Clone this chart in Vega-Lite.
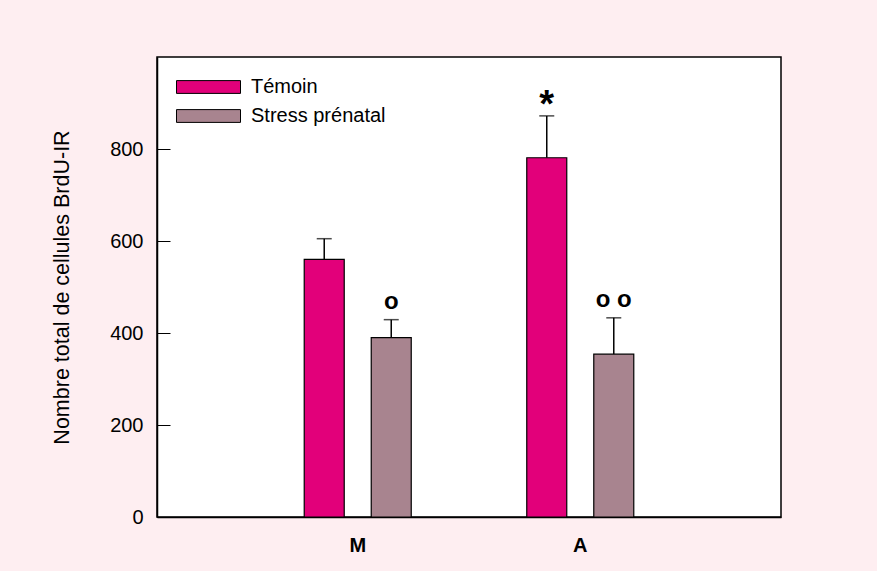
{
  "$schema": "https://vega.github.io/schema/vega-lite/v6.json",
  "width": 624,
  "height": 460,
  "autosize": {"type": "none"},
  "padding": {"left": 157, "top": 57, "right": 96, "bottom": 54},
  "background": "#FEEEF1",
  "config": {
    "font": "Liberation Sans",
    "view": {"fill": "white", "stroke": "black", "strokeWidth": 1.5}
  },
  "data": {
    "values": [
      {"group": "M", "cond": "Témoin", "value": 560, "upper": 605, "sig": ""},
      {"group": "M", "cond": "Stress prénatal", "value": 390, "upper": 429, "sig": "o"},
      {"group": "A", "cond": "Témoin", "value": 781, "upper": 872, "sig": "*"},
      {"group": "A", "cond": "Stress prénatal", "value": 354, "upper": 433, "sig": "o o"}
    ]
  },
  "encoding": {
    "x": {
      "field": "group",
      "type": "nominal",
      "sort": ["M", "A"],
      "scale": {"paddingInner": 0, "paddingOuter": 0.402},
      "axis": {
        "title": null,
        "labelAngle": 0,
        "ticks": false,
        "domain": true,
        "domainColor": "black",
        "domainWidth": 1.5,
        "labelFont": "Liberation Sans",
        "labelFontSize": 20,
        "labelFontWeight": "bold",
        "labelColor": "black",
        "labelPadding": 18
      }
    },
    "xOffset": {
      "field": "cond",
      "type": "nominal",
      "sort": ["Témoin", "Stress prénatal"],
      "scale": {"paddingInner": 0.403, "paddingOuter": 0.862}
    }
  },
  "layer": [
    {
      "mark": {"type": "rule", "color": "black", "strokeWidth": 1.5},
      "encoding": {
        "y": {
          "field": "value",
          "type": "quantitative",
          "title": "Nombre total de cellules BrdU-IR",
          "scale": {"domain": [0, 1000]},
          "axis": {
            "title": "Nombre total de cellules BrdU-IR",
            "values": [0, 200, 400, 600, 800],
            "grid": false,
            "tickSize": -13,
            "tickColor": "black",
            "tickWidth": 1,
            "domain": true,
            "domainColor": "black",
            "domainWidth": 1.5,
            "labelFontSize": 20,
            "labelColor": "black",
            "labelPadding": 27,
            "titleFontSize": 21.5,
            "titleFontWeight": "normal",
            "titleColor": "black",
            "titlePadding": 36
          }
        },
        "y2": {"field": "upper"}
      }
    },
    {
      "mark": {"type": "tick", "color": "black", "size": 15, "thickness": 1.5},
      "encoding": {
        "y": {"field": "upper", "type": "quantitative", "title": "Nombre total de cellules BrdU-IR", "scale": {"domain": [0, 1000]}}
      }
    },
    {
      "mark": {"type": "bar", "stroke": "black", "strokeWidth": 1.2},
      "encoding": {
        "y": {"field": "value", "type": "quantitative", "title": "Nombre total de cellules BrdU-IR", "scale": {"domain": [0, 1000]}},
        "color": {
          "field": "cond",
          "type": "nominal",
          "sort": ["Témoin", "Stress prénatal"],
          "scale": {"domain": ["Témoin", "Stress prénatal"], "range": ["#E2007A", "#A8848F"]},
          "legend": {
            "title": null,
            "orient": "none",
            "legendX": 19,
            "legendY": 15.5,
            "padding": 0,
            "symbolType": "M-1,-0.2H1V0.2H-1Z",
            "symbolSize": 4096,
            "symbolStrokeColor": "black",
            "symbolStrokeWidth": 1,
            "symbolOpacity": 1,
            "labelFontSize": 20,
            "labelColor": "black",
            "labelOffset": 10,
            "clipHeight": 29,
            "rowPadding": 0
          }
        }
      }
    },
    {
      "transform": [{"filter": "datum.sig != '*'"}],
      "mark": {"type": "text", "fontSize": 24, "fontWeight": "bold", "color": "black", "baseline": "alphabetic", "dy": -11},
      "encoding": {
        "y": {"field": "upper", "type": "quantitative", "title": "Nombre total de cellules BrdU-IR", "scale": {"domain": [0, 1000]}},
        "text": {"field": "sig"}
      }
    },
    {
      "transform": [{"filter": "datum.sig == '*'"}],
      "mark": {"type": "text", "fontSize": 38, "fontWeight": "bold", "color": "black", "baseline": "alphabetic", "dy": 1},
      "encoding": {
        "y": {"field": "upper", "type": "quantitative", "title": "Nombre total de cellules BrdU-IR", "scale": {"domain": [0, 1000]}},
        "text": {"field": "sig"}
      }
    }
  ]
}
